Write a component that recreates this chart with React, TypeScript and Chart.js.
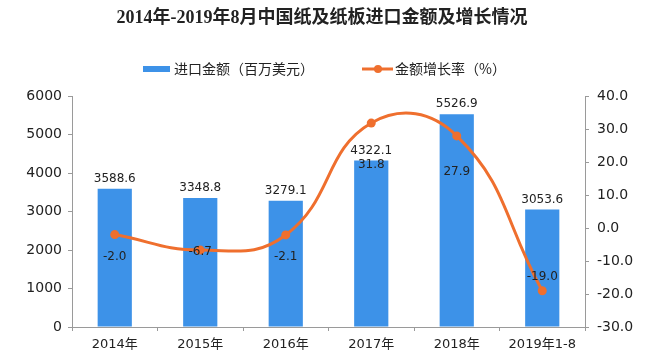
import React, { useEffect, useRef } from "react";
import { Chart, registerables } from "chart.js";

Chart.register(...registerables);

const categories = ["2014年", "2015年", "2016年", "2017年", "2018年", "2019年1-8"];
const importValues = [3588.6, 3348.8, 3279.1, 4322.1, 5526.9, 3053.6];
const growthRates = [-2.0, -6.7, -2.1, 31.8, 27.9, -19.0];
const leftTicks = { min: 0, max: 6000, step: 1000 };
const rightTicks = { min: -30, max: 40, step: 10 };
const titleText = "2014年-2019年8月中国纸及纸板进口金额及增长情况";
const barLabel = "进口金额（百万美元）";
const lineLabel = "金额增长率（%）";
// label vertical offsets relative to each line point (px, styling of labels)
const rateLabelOffsets = [22, 2, 22, 42, 36, -14];

const BLUE = "#3D92E8";
const ORANGE = "#EF6F2E";
const TEXT = "#222";
const AXIS = "#9a9a9a";
const NUM_FONT = "'DejaVu Sans', 'Noto Sans CJK SC', sans-serif";
const CJK_FONT = "'Noto Sans CJK SC', 'DejaVu Sans', sans-serif";

const decorPlugin = {
  id: "decor",
  afterDraw(chart: any) {
    const ctx = chart.ctx as CanvasRenderingContext2D;
    ctx.save();
    // title
    ctx.fillStyle = TEXT;
    ctx.font = `bold 18px 'Liberation Serif', 'Noto Sans CJK SC', serif`;
    ctx.textAlign = "center";
    ctx.textBaseline = "middle";
    ctx.fillText(titleText, 322, 18);
    // legend
    ctx.font = `14px ${CJK_FONT}`;
    ctx.textAlign = "left";
    ctx.fillStyle = BLUE;
    ctx.fillRect(143, 66, 27, 6);
    ctx.fillStyle = TEXT;
    ctx.fillText(barLabel, 174, 69);
    ctx.strokeStyle = ORANGE;
    ctx.lineWidth = 3;
    ctx.beginPath();
    ctx.moveTo(362, 69);
    ctx.lineTo(393, 69);
    ctx.stroke();
    ctx.fillStyle = ORANGE;
    ctx.beginPath();
    ctx.arc(378, 69, 4, 0, Math.PI * 2);
    ctx.fill();
    ctx.fillStyle = TEXT;
    ctx.fillText(lineLabel, 395, 69);

    // value labels
    ctx.font = `12px ${NUM_FONT}`;
    ctx.textAlign = "center";
    ctx.fillStyle = TEXT;
    const barMeta = chart.getDatasetMeta(1);
    barMeta.data.forEach((el: any, i: number) => {
      ctx.fillText(importValues[i].toFixed(1), el.x, el.y - 10);
    });
    const lineMeta = chart.getDatasetMeta(0);
    lineMeta.data.forEach((el: any, i: number) => {
      ctx.fillText(growthRates[i].toFixed(1), el.x, el.y + rateLabelOffsets[i]);
    });
    ctx.restore();
  },
};

export default function App() {
  const ref = useRef<HTMLCanvasElement | null>(null);
  useEffect(() => {
    if (!ref.current) return;
    const chart = new Chart(ref.current, {
      type: "bar",
      data: {
        labels: categories,
        datasets: [
          {
            type: "line",
            label: lineLabel,
            data: growthRates,
            yAxisID: "y1",
            borderColor: ORANGE,
            backgroundColor: ORANGE,
            borderWidth: 3,
            pointRadius: 4.5,
            pointBackgroundColor: ORANGE,
            pointBorderWidth: 0,
            tension: 0.45,
            order: 0,
          } as any,
          {
            type: "bar",
            label: barLabel,
            data: importValues,
            yAxisID: "y",
            backgroundColor: BLUE,
            categoryPercentage: 1,
            barPercentage: 0.4,
            order: 1,
          },
        ],
      },
      options: {
        responsive: false,
        animation: false,
        maintainAspectRatio: false,
        layout: { padding: { top: 96, left: 0, right: 0, bottom: 0 } },
        plugins: {
          legend: { display: false },
          title: { display: false },
          tooltip: { enabled: false },
        },
        scales: {
          x: {
            grid: { drawOnChartArea: false, drawTicks: true, tickLength: 4, color: AXIS },
            border: { color: AXIS },
            ticks: { color: TEXT, font: { size: 13, family: NUM_FONT }, padding: 6 },
            afterFit(scale: any) {
              scale.height = 31;
            },
          },
          y: {
            position: "left",
            min: leftTicks.min,
            max: leftTicks.max,
            ticks: {
              stepSize: leftTicks.step,
              color: TEXT,
              font: { size: 14, family: NUM_FONT },
              padding: 6,
              callback: (v: any) => String(v),
            },
            grid: { drawOnChartArea: false, drawTicks: true, tickLength: 4, color: AXIS },
            border: { color: AXIS },
            afterFit(scale: any) {
              scale.width = 72;
            },
          },
          y1: {
            position: "right",
            min: rightTicks.min,
            max: rightTicks.max,
            ticks: {
              stepSize: rightTicks.step,
              color: TEXT,
              font: { size: 14, family: NUM_FONT },
              padding: 8,
              callback: (v: any) => Number(v).toFixed(1),
            },
            grid: { drawOnChartArea: false, drawTicks: true, tickLength: 4, color: AXIS },
            border: { color: AXIS },
            afterFit(scale: any) {
              scale.width = 62;
            },
          },
        },
      },
      plugins: [decorPlugin],
    });
    return () => chart.destroy();
  }, []);
  return (
    <div style={{ position: "fixed", left: 0, top: 0, width: 647, height: 358, background: "#fff" }}>
      <canvas ref={ref} width={647} height={358} style={{ width: 647, height: 358 }} />
    </div>
  );
}
